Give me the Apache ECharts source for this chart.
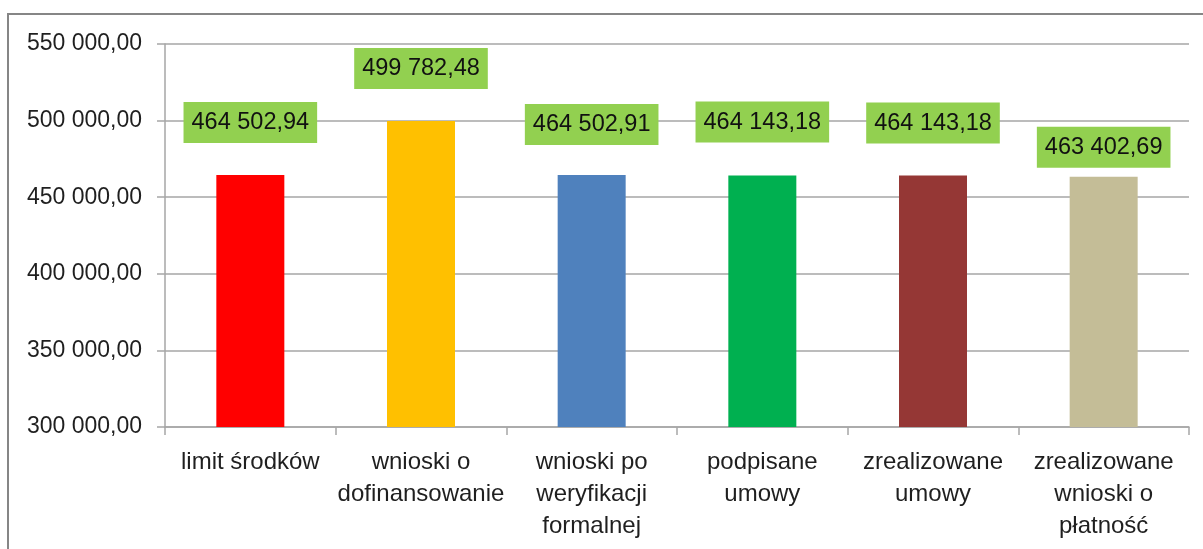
<!DOCTYPE html>
<html>
<head>
<meta charset="utf-8">
<script src="https://cdn.jsdelivr.net/npm/echarts@6/dist/echarts.min.js"></script>
<style>
  html, body { margin: 0; padding: 0; background: #fff; }
  #chart { width: 1203px; height: 549px; }
</style>
</head>
<body>
<div id="chart"></div>
<script>
  // dane z wykresu
  const categories = [
    'limit środków',
    'wnioski o\ndofinansowanie',
    'wnioski po\nweryfikacji\nformalnej',
    'podpisane\numowy',
    'zrealizowane\numowy',
    'zrealizowane\nwnioski o\npłatność'
  ];
  const values = [464502.94, 499782.48, 464502.91, 464143.18, 464143.18, 463402.69];
  const barColors = ['#FF0000', '#FFC000', '#4F81BD', '#00B050', '#953735', '#C4BD97'];

  // odstęp etykiety od słupka (ręcznie ustawione w oryginale)
  const labelGap = [32, 32, 30, 33, 32, 9];

  const FONT = '"Liberation Sans", Arial, sans-serif';

  function plNumber(v) {
    let parts = v.toFixed(2).split('.');
    let intPart = parts[0].replace(/\B(?=(\d{3})+(?!\d))/g, ' ');
    return intPart + ',' + parts[1];
  }

  let chart = echarts.init(document.getElementById('chart'));
  chart.setOption({
    animation: false,
    graphic: [{
      type: 'rect',
      shape: { x: 8, y: 14, width: 1220, height: 560 },
      style: { fill: 'none', stroke: '#868686', lineWidth: 2 },
      silent: true
    }],
    grid: {
      left: 165,
      right: 14,
      top: 44,
      bottom: 122
    },
    xAxis: {
      type: 'category',
      data: categories,
      axisLine: { lineStyle: { color: '#A6A6A6', width: 1.5 } },
      axisTick: { show: true, length: 8, alignWithLabel: false, lineStyle: { color: '#A6A6A6', width: 1.5 } },
      axisLabel: {
        interval: 0,
        margin: 19,
        color: '#1f1f1f',
        fontFamily: FONT,
        fontSize: 24,
        lineHeight: 32,
        align: 'center'
      }
    },
    yAxis: {
      type: 'value',
      min: 300000,
      max: 550000,
      interval: 50000,
      axisLine: { show: true, lineStyle: { color: '#A6A6A6', width: 1.5 } },
      axisTick: { show: true, length: 8, lineStyle: { color: '#A6A6A6', width: 1.5 } },
      splitLine: { lineStyle: { color: '#A6A6A6', width: 1.5 } },
      axisLabel: {
        margin: 23,
        color: '#1f1f1f',
        fontFamily: FONT,
        fontSize: 23,
        formatter: v => plNumber(v)
      }
    },
    series: [{
      type: 'bar',
      barWidth: 68,
      data: values.map((v, i) => ({
        value: v,
        itemStyle: { color: barColors[i] },
        label: { distance: labelGap[i] }
      })),
      label: {
        show: true,
        position: 'top',
        backgroundColor: '#92D050',
        padding: [9, 8, 8, 8],
        color: '#111',
        fontFamily: FONT,
        fontSize: 23.5,
        formatter: p => plNumber(p.value)
      }
    }]
  });
</script>
</body>
</html>
